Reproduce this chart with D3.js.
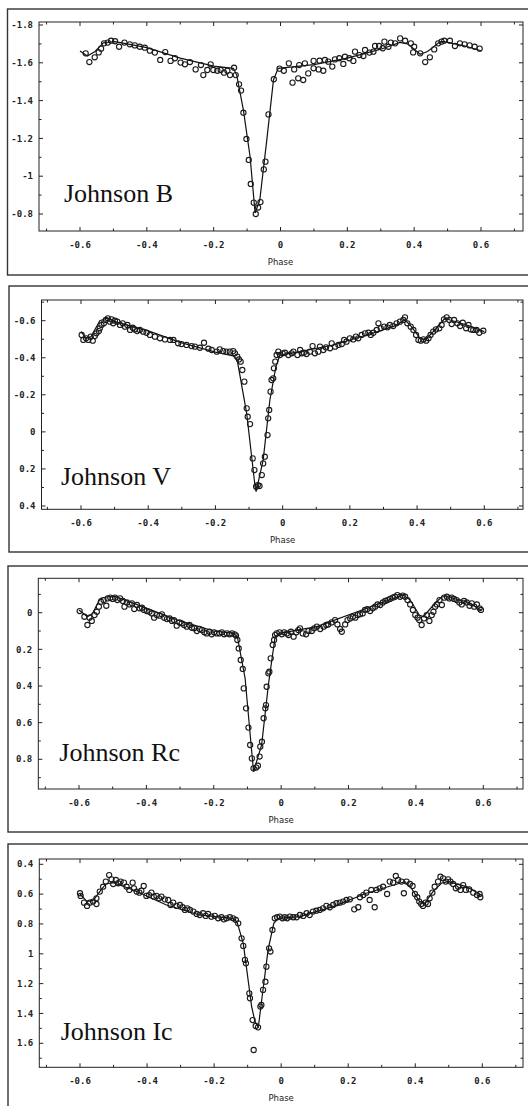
<!DOCTYPE html>
<html>
<head>
<meta charset="utf-8">
<script src="https://cdn.jsdelivr.net/npm/d3@7"></script>
<style>
  body { margin: 0; background: #fff; }
</style>
</head>
<body>
<div id="zone"></div>
<script>
// courbes de lumière dans 4 filtres (B, V, Rc, Ic)
(function() {

  "use strict";

  /////////// Données ////////////

  var filtres = ["Johnson B", "Johnson V", "Johnson Rc", "Johnson Ic"];

  // graduations de l'axe des phases
  var phaseTicks = [-0.6, -0.4, -0.2, 0, 0.2, 0.4, 0.6];

  // graduations de l'axe des magnitudes, une liste par filtre
  var magTicksB = [-1.8, -1.6, -1.4, -1.2, -1, -0.8];
  var magTicksV = [-0.6, -0.4, -0.2, 0, 0.2, 0.4];
  var magTicksR = [0, 0.2, 0.4, 0.6, 0.8];
  var magTicksI = [0.4, 0.6, 0.8, 1, 1.2, 1.4, 1.6];

  // observations [phase, magnitude]
  var obsB = [
    [-0.583,-1.650],[-0.572,-1.604],[-0.556,-1.629],[-0.544,-1.655],[-0.537,-1.675],[-0.528,-1.703],[-0.517,-1.707],[-0.507,-1.717],
    [-0.495,-1.714],[-0.483,-1.685],[-0.467,-1.707],[-0.451,-1.698],[-0.436,-1.692],[-0.421,-1.685],[-0.406,-1.680],[-0.391,-1.664],
    [-0.376,-1.654],[-0.360,-1.615],[-0.345,-1.657],[-0.329,-1.610],[-0.316,-1.624],[-0.299,-1.601],[-0.286,-1.592],[-0.271,-1.604],
    [-0.254,-1.565],[-0.238,-1.588],[-0.231,-1.535],[-0.219,-1.562],[-0.209,-1.592],[-0.201,-1.562],[-0.189,-1.558],[-0.179,-1.562],
    [-0.169,-1.548],[-0.159,-1.558],[-0.151,-1.535],[-0.139,-1.574],[-0.134,-1.535],[-0.124,-1.486],[-0.118,-1.453],[-0.111,-1.336],
    [-0.102,-1.197],[-0.095,-1.086],[-0.089,-0.959],[-0.080,-0.860],[-0.074,-0.800],[-0.067,-0.834],[-0.060,-0.863],[-0.050,-1.036],
    [-0.045,-1.077],[-0.036,-1.327],[-0.020,-1.513],[-0.003,-1.569],[0.010,-1.558],[0.025,-1.597],[0.036,-1.495],[0.041,-1.565],
    [0.053,-1.518],[0.056,-1.588],[0.068,-1.509],[0.073,-1.597],[0.083,-1.544],[0.099,-1.610],[0.099,-1.571],[0.114,-1.565],
    [0.117,-1.611],[0.128,-1.558],[0.133,-1.615],[0.143,-1.606],[0.155,-1.580],[0.163,-1.618],[0.176,-1.624],[0.188,-1.594],
    [0.193,-1.632],[0.206,-1.624],[0.218,-1.610],[0.223,-1.659],[0.236,-1.641],[0.248,-1.636],[0.253,-1.668],[0.266,-1.654],
    [0.278,-1.659],[0.283,-1.689],[0.295,-1.689],[0.306,-1.677],[0.311,-1.712],[0.323,-1.685],[0.330,-1.707],[0.343,-1.703],
    [0.358,-1.729],[0.373,-1.717],[0.390,-1.703],[0.400,-1.685],[0.397,-1.655],[0.418,-1.650],[0.433,-1.604],[0.447,-1.629],
    [0.460,-1.671],[0.472,-1.703],[0.482,-1.712],[0.490,-1.717],[0.507,-1.717],[0.522,-1.689],[0.537,-1.703],[0.551,-1.698],
    [0.566,-1.692],[0.581,-1.685],[0.596,-1.675]
  ];

  var obsV = [
    [-0.598,-0.523],[-0.593,-0.496],[-0.585,-0.505],[-0.578,-0.496],[-0.571,-0.514],[-0.565,-0.492],[-0.559,-0.517],[-0.554,-0.532],
    [-0.547,-0.544],[-0.544,-0.559],[-0.539,-0.577],[-0.532,-0.586],[-0.526,-0.604],[-0.520,-0.613],[-0.514,-0.595],[-0.509,-0.607],
    [-0.504,-0.586],[-0.499,-0.600],[-0.492,-0.595],[-0.484,-0.577],[-0.476,-0.586],[-0.469,-0.568],[-0.462,-0.577],[-0.454,-0.550],
    [-0.446,-0.562],[-0.440,-0.553],[-0.433,-0.544],[-0.425,-0.550],[-0.415,-0.541],[-0.405,-0.535],[-0.395,-0.523],[-0.380,-0.514],
    [-0.365,-0.505],[-0.350,-0.499],[-0.335,-0.496],[-0.325,-0.496],[-0.311,-0.478],[-0.301,-0.474],[-0.286,-0.469],[-0.271,-0.463],
    [-0.261,-0.460],[-0.246,-0.454],[-0.234,-0.481],[-0.221,-0.449],[-0.211,-0.442],[-0.196,-0.433],[-0.187,-0.445],[-0.177,-0.436],
    [-0.167,-0.433],[-0.157,-0.433],[-0.147,-0.436],[-0.142,-0.424],[-0.135,-0.406],[-0.130,-0.391],[-0.125,-0.379],[-0.120,-0.334],
    [-0.114,-0.271],[-0.107,-0.127],[-0.104,-0.082],[-0.097,-0.042],[-0.089,0.143],[-0.084,0.206],[-0.079,0.296],[-0.074,0.287],
    [-0.069,0.292],[-0.062,0.233],[-0.058,0.170],[-0.053,0.134],[-0.045,0.017],[-0.043,-0.073],[-0.040,-0.118],[-0.036,-0.217],
    [-0.033,-0.280],[-0.028,-0.289],[-0.026,-0.343],[-0.022,-0.379],[-0.018,-0.415],[-0.013,-0.433],[-0.008,-0.415],[0.000,-0.424],
    [0.007,-0.427],[0.017,-0.415],[0.027,-0.424],[0.032,-0.433],[0.044,-0.415],[0.052,-0.442],[0.057,-0.424],[0.063,-0.427],
    [0.071,-0.420],[0.081,-0.433],[0.089,-0.463],[0.096,-0.424],[0.106,-0.433],[0.111,-0.460],[0.121,-0.442],[0.129,-0.456],
    [0.141,-0.451],[0.146,-0.478],[0.156,-0.460],[0.166,-0.469],[0.176,-0.474],[0.183,-0.496],[0.190,-0.487],[0.200,-0.505],
    [0.210,-0.499],[0.218,-0.514],[0.225,-0.505],[0.235,-0.523],[0.245,-0.532],[0.255,-0.535],[0.262,-0.523],[0.270,-0.535],
    [0.280,-0.550],[0.285,-0.586],[0.292,-0.559],[0.302,-0.568],[0.312,-0.564],[0.319,-0.577],[0.329,-0.571],[0.339,-0.586],
    [0.349,-0.595],[0.359,-0.604],[0.364,-0.618],[0.371,-0.586],[0.381,-0.568],[0.389,-0.550],[0.397,-0.523],[0.404,-0.496],
    [0.411,-0.492],[0.419,-0.499],[0.427,-0.492],[0.434,-0.505],[0.440,-0.523],[0.448,-0.541],[0.456,-0.553],[0.466,-0.559],
    [0.473,-0.577],[0.480,-0.607],[0.488,-0.618],[0.496,-0.604],[0.503,-0.582],[0.510,-0.604],[0.520,-0.586],[0.528,-0.571],
    [0.536,-0.589],[0.546,-0.559],[0.553,-0.577],[0.560,-0.553],[0.567,-0.550],[0.577,-0.550],[0.585,-0.535],[0.597,-0.546]
  ];

  var obsR = [
    [-0.598,-0.009],[-0.584,0.022],[-0.575,0.067],[-0.569,0.027],[-0.562,0.045],[-0.554,0.013],[-0.547,-0.005],[-0.541,-0.033],
    [-0.535,-0.060],[-0.527,-0.069],[-0.519,-0.038],[-0.515,-0.078],[-0.507,-0.082],[-0.500,-0.075],[-0.493,-0.082],[-0.486,-0.069],
    [-0.478,-0.078],[-0.470,-0.064],[-0.465,-0.033],[-0.458,-0.056],[-0.450,-0.045],[-0.443,-0.051],[-0.436,-0.020],[-0.428,-0.042],
    [-0.420,-0.024],[-0.413,-0.027],[-0.407,-0.015],[-0.399,-0.009],[-0.391,-0.005],[-0.384,0.004],[-0.377,0.027],[-0.369,0.013],
    [-0.361,0.016],[-0.354,0.009],[-0.347,0.027],[-0.339,0.035],[-0.331,0.031],[-0.324,0.045],[-0.318,0.040],[-0.310,0.071],
    [-0.302,0.053],[-0.295,0.058],[-0.288,0.067],[-0.280,0.076],[-0.272,0.067],[-0.265,0.082],[-0.258,0.085],[-0.250,0.100],
    [-0.242,0.089],[-0.235,0.095],[-0.228,0.107],[-0.221,0.113],[-0.213,0.104],[-0.206,0.118],[-0.199,0.107],[-0.191,0.113],
    [-0.183,0.113],[-0.176,0.107],[-0.169,0.118],[-0.161,0.113],[-0.153,0.118],[-0.146,0.113],[-0.138,0.118],[-0.134,0.125],
    [-0.130,0.149],[-0.126,0.195],[-0.120,0.258],[-0.114,0.307],[-0.111,0.413],[-0.104,0.522],[-0.097,0.627],[-0.092,0.722],
    [-0.087,0.795],[-0.082,0.849],[-0.074,0.845],[-0.069,0.835],[-0.064,0.785],[-0.062,0.731],[-0.057,0.704],[-0.052,0.576],
    [-0.047,0.522],[-0.045,0.504],[-0.043,0.404],[-0.038,0.331],[-0.035,0.322],[-0.031,0.249],[-0.025,0.176],[-0.021,0.149],
    [-0.018,0.122],[-0.013,0.113],[-0.005,0.107],[0.002,0.118],[0.009,0.107],[0.017,0.113],[0.022,0.122],[0.029,0.104],
    [0.037,0.131],[0.045,0.107],[0.051,0.095],[0.056,0.085],[0.064,0.113],[0.074,0.118],[0.081,0.100],[0.091,0.100],
    [0.098,0.085],[0.106,0.076],[0.116,0.089],[0.126,0.076],[0.134,0.067],[0.140,0.064],[0.150,0.053],[0.160,0.040],
    [0.167,0.064],[0.175,0.089],[0.180,0.104],[0.190,0.064],[0.197,0.040],[0.205,0.031],[0.213,0.022],[0.220,0.027],
    [0.227,0.013],[0.234,0.009],[0.242,0.004],[0.249,-0.015],[0.256,-0.020],[0.264,-0.009],[0.272,-0.024],[0.279,-0.033],
    [0.286,-0.045],[0.294,-0.042],[0.302,-0.056],[0.309,-0.064],[0.316,-0.069],[0.323,-0.075],[0.331,-0.082],[0.338,-0.087],
    [0.345,-0.096],[0.353,-0.087],[0.361,-0.093],[0.368,-0.087],[0.375,-0.069],[0.383,-0.045],[0.391,-0.015],[0.398,0.013],
    [0.405,0.027],[0.410,0.040],[0.417,0.067],[0.424,0.031],[0.432,0.013],[0.440,0.045],[0.447,0.013],[0.452,-0.005],
    [0.457,-0.033],[0.462,-0.045],[0.470,-0.069],[0.477,-0.042],[0.484,-0.082],[0.492,-0.087],[0.499,-0.078],[0.506,-0.082],
    [0.513,-0.075],[0.521,-0.069],[0.529,-0.056],[0.536,-0.045],[0.543,-0.064],[0.551,-0.056],[0.559,-0.038],[0.566,-0.051],
    [0.573,-0.033],[0.581,-0.045],[0.589,-0.024],[0.593,-0.015]
  ];

  var obsI = [
    [-0.600,0.594],[-0.598,0.612],[-0.588,0.657],[-0.579,0.679],[-0.571,0.657],[-0.561,0.650],[-0.551,0.628],[-0.551,0.666],
    [-0.541,0.583],[-0.531,0.550],[-0.523,0.516],[-0.513,0.472],[-0.506,0.501],[-0.501,0.532],[-0.493,0.505],[-0.486,0.527],
    [-0.479,0.516],[-0.469,0.523],[-0.461,0.550],[-0.453,0.572],[-0.443,0.523],[-0.439,0.561],[-0.431,0.583],[-0.423,0.590],
    [-0.417,0.577],[-0.410,0.545],[-0.402,0.612],[-0.394,0.606],[-0.387,0.590],[-0.380,0.617],[-0.372,0.612],[-0.364,0.628],
    [-0.357,0.617],[-0.347,0.635],[-0.337,0.639],[-0.330,0.673],[-0.322,0.657],[-0.312,0.679],[-0.302,0.673],[-0.294,0.688],
    [-0.287,0.706],[-0.280,0.695],[-0.272,0.706],[-0.262,0.717],[-0.252,0.733],[-0.243,0.740],[-0.233,0.728],[-0.225,0.746],
    [-0.218,0.733],[-0.208,0.751],[-0.198,0.746],[-0.188,0.762],[-0.178,0.755],[-0.171,0.769],[-0.163,0.762],[-0.153,0.755],
    [-0.143,0.762],[-0.135,0.773],[-0.128,0.796],[-0.118,0.896],[-0.113,0.947],[-0.108,1.041],[-0.105,1.064],[-0.095,1.265],
    [-0.093,1.298],[-0.085,1.444],[-0.082,1.645],[-0.076,1.484],[-0.069,1.493],[-0.062,1.354],[-0.059,1.343],[-0.054,1.242],
    [-0.047,1.187],[-0.044,1.086],[-0.036,0.963],[-0.032,0.985],[-0.026,0.840],[-0.019,0.762],[-0.012,0.755],[-0.004,0.751],
    [0.004,0.762],[0.011,0.755],[0.018,0.762],[0.026,0.751],[0.036,0.755],[0.046,0.755],[0.056,0.740],[0.066,0.746],
    [0.076,0.728],[0.085,0.740],[0.095,0.717],[0.105,0.711],[0.115,0.706],[0.125,0.695],[0.135,0.679],[0.145,0.688],
    [0.155,0.673],[0.165,0.661],[0.175,0.657],[0.185,0.650],[0.195,0.639],[0.205,0.635],[0.218,0.702],[0.230,0.688],
    [0.235,0.621],[0.245,0.606],[0.254,0.590],[0.264,0.639],[0.269,0.572],[0.279,0.688],[0.284,0.572],[0.294,0.561],
    [0.304,0.550],[0.316,0.599],[0.324,0.516],[0.334,0.523],[0.342,0.478],[0.349,0.505],[0.359,0.516],[0.366,0.594],
    [0.374,0.516],[0.384,0.532],[0.392,0.545],[0.399,0.599],[0.406,0.621],[0.412,0.650],[0.418,0.666],[0.423,0.679],
    [0.431,0.657],[0.438,0.666],[0.443,0.628],[0.451,0.590],[0.458,0.550],[0.468,0.516],[0.475,0.483],[0.483,0.494],
    [0.491,0.516],[0.498,0.501],[0.505,0.516],[0.513,0.532],[0.521,0.561],[0.528,0.550],[0.535,0.572],[0.543,0.539],
    [0.551,0.572],[0.561,0.568],[0.573,0.590],[0.584,0.606],[0.592,0.599],[0.594,0.621]
  ];

  // courbes modèles [phase, magnitude]
  var modelB = [
    [-0.600,-1.662],[-0.578,-1.636],[-0.555,-1.660],[-0.530,-1.706],[-0.495,-1.712],[-0.400,-1.680],[-0.300,-1.625],
    [-0.200,-1.582],[-0.141,-1.571],[-0.131,-1.535],[-0.111,-1.350],[-0.091,-1.103],[-0.076,-0.805],[-0.062,-0.874],
    [-0.041,-1.192],[-0.021,-1.509],[-0.007,-1.571],[0.100,-1.590],[0.200,-1.625],[0.300,-1.672],[0.358,-1.708],
    [0.380,-1.700],[0.400,-1.672],[0.418,-1.645],[0.440,-1.660],[0.478,-1.712],[0.490,-1.712],[0.550,-1.690],[0.600,-1.664]
  ];

  var modelV = [
    [-0.600,-0.541],[-0.585,-0.505],[-0.570,-0.515],[-0.544,-0.600],[-0.524,-0.613],[-0.494,-0.592],[-0.400,-0.545],
    [-0.300,-0.480],[-0.200,-0.430],[-0.147,-0.410],[-0.135,-0.385],[-0.107,-0.100],[-0.082,0.296],[-0.079,0.323],
    [-0.058,0.152],[-0.038,-0.172],[-0.020,-0.352],[-0.008,-0.415],[0.052,-0.433],[0.151,-0.469],[0.250,-0.523],
    [0.329,-0.568],[0.364,-0.604],[0.379,-0.577],[0.409,-0.505],[0.424,-0.496],[0.448,-0.541],[0.483,-0.613],
    [0.498,-0.604],[0.548,-0.577],[0.600,-0.541]
  ];

  var modelR = [
    [-0.600,-0.015],[-0.575,0.022],[-0.560,0.005],[-0.537,-0.078],[-0.513,-0.087],[-0.495,-0.090],[-0.400,-0.025],
    [-0.300,0.045],[-0.200,0.100],[-0.141,0.113],[-0.130,0.131],[-0.107,0.358],[-0.082,0.867],[-0.058,0.722],
    [-0.038,0.395],[-0.018,0.131],[-0.005,0.113],[0.106,0.076],[0.254,-0.024],[0.333,-0.078],[0.363,-0.096],
    [0.383,-0.069],[0.410,0.013],[0.422,0.022],[0.452,-0.042],[0.477,-0.087],[0.492,-0.087],[0.551,-0.060],[0.593,-0.015]
  ];

  var modelI = [
    [-0.600,0.599],[-0.579,0.650],[-0.560,0.640],[-0.541,0.583],[-0.523,0.532],[-0.501,0.523],[-0.441,0.572],
    [-0.342,0.673],[-0.243,0.740],[-0.143,0.762],[-0.131,0.791],[-0.113,0.930],[-0.088,1.354],[-0.078,1.455],
    [-0.068,1.490],[-0.058,1.310],[-0.039,0.974],[-0.022,0.796],[-0.009,0.762],[0.056,0.751],[0.155,0.684],
    [0.254,0.594],[0.354,0.527],[0.369,0.516],[0.389,0.561],[0.413,0.650],[0.428,0.661],[0.453,0.583],
    [0.478,0.527],[0.498,0.516],[0.553,0.550],[0.597,0.606]
  ];

  /////////// Mise en page ////////////

  var largeur = 528;
  var hauteur = 1106;

  // cadre = boîte extérieure, plot = zone du graphique, x06 = pixels de -0.6 et 0.6,
  // yv / yp = deux valeurs de magnitude et leurs pixels, lab = position du nom du filtre
  var panneaux = [
    { nom: filtres[0], obs: obsB, model: modelB, ticks: magTicksB,
      cadre: [7.5, 9, 266], plot: [39, 22, 231], x06: [80, 481], yv: [-1.8, -0.8], yp: [25, 214], lab: [64, 201.7] },
    { nom: filtres[1], obs: obsV, model: modelV, ticks: magTicksV,
      cadre: [9, 286, 266], plot: [41.5, 300, 509.3], x06: [81, 484.3], yv: [-0.6, 0.4], yp: [320.7, 506], lab: [61, 485] },
    { nom: filtres[2], obs: obsR, model: modelR, ticks: magTicksR,
      cadre: [8, 566, 266], plot: [38.3, 578.3, 789], x06: [79, 483.3], yv: [0, 0.8], yp: [612.7, 759.3], lab: [59.3, 761] },
    { nom: filtres[3], obs: obsI, model: modelI, ticks: magTicksI,
      cadre: [8, 844, 300], plot: [39.3, 859, 1067.3], x06: [80, 482.3], yv: [0.4, 1.6], yp: [864.3, 1043.3], lab: [60.7, 1040] }
  ];
  var plotDroite = 523;

  var svg = d3.select("#zone")
    .append("svg")
    .attr("width", largeur)
    .attr("height", hauteur)
    .style("display", "block");

  svg.append("rect")
    .attr("width", largeur)
    .attr("height", hauteur)
    .attr("fill", "#fff");

  panneaux.forEach(dessinePanneau);

  /**
  * Dessine un panneau complet : cadre, axes, modèle, points, nom du filtre.
  */
  function dessinePanneau(p) {

    var g = svg.append("g");
    var gauche = p.plot[0], haut = p.plot[1], bas = p.plot[2];

    var x = d3.scaleLinear().domain([-0.6, 0.6]).range(p.x06);
    var y = d3.scaleLinear().domain(p.yv).range(p.yp);

    // cadre extérieur (coupé à droite comme sur l'image)
    g.append("rect")
      .attr("x", p.cadre[0])
      .attr("y", p.cadre[1])
      .attr("width", largeur + 20 - p.cadre[0])
      .attr("height", p.cadre[2])
      .attr("fill", "none")
      .attr("stroke", "#333")
      .attr("stroke-width", 1.4);

    // zone du graphique
    g.append("rect")
      .attr("x", gauche)
      .attr("y", haut)
      .attr("width", plotDroite - gauche)
      .attr("height", bas - haut)
      .attr("fill", "none")
      .attr("stroke", "#222")
      .attr("stroke-width", 1);

    // graduations de phase : majeures et mineures, vers l'intérieur, en haut et en bas
    var phaseMin = x.invert(gauche), phaseMax = x.invert(plotDroite);
    var tousX = d3.range(Math.ceil(phaseMin * 10 - 1e-6), Math.floor(phaseMax * 10 + 1e-6) + 1).map(function(k) { return k / 10; });
    tousX.forEach(function(v) {
      var majeur = phaseTicks.some(function(t) { return Math.abs(t - v) < 1e-6; });
      var l = majeur ? 4 : 2.5;
      g.append("line").attr("x1", x(v)).attr("x2", x(v)).attr("y1", bas).attr("y2", bas - l)
        .attr("stroke", "#222");
      g.append("line").attr("x1", x(v)).attr("x2", x(v)).attr("y1", haut).attr("y2", haut + l)
        .attr("stroke", "#222");
    });

    // graduations de magnitude, à gauche et à droite
    var m0 = Math.min(y.invert(haut), y.invert(bas)), m1 = Math.max(y.invert(haut), y.invert(bas));
    var tousY = d3.range(Math.ceil(m0 * 10 - 1e-6), Math.floor(m1 * 10 + 1e-6) + 1).map(function(k) { return k / 10; });
    tousY.forEach(function(v) {
      var majeur = p.ticks.some(function(t) { return Math.abs(t - v) < 1e-6; });
      var l = majeur ? 4 : 2.5;
      g.append("line").attr("x1", gauche).attr("x2", gauche + l).attr("y1", y(v)).attr("y2", y(v))
        .attr("stroke", "#222");
      g.append("line").attr("x1", plotDroite).attr("x2", plotDroite - l).attr("y1", y(v)).attr("y2", y(v))
        .attr("stroke", "#222");
    });

    // étiquettes des axes
    g.selectAll(".xlab")
      .data(phaseTicks)
      .enter().append("text")
      .attr("x", function(d) { return x(d); })
      .attr("y", bas + 16.5)
      .attr("text-anchor", "middle")
      .attr("font-family", "'DejaVu Sans Mono', monospace")
      .attr("font-size", 9)
      .attr("font-weight", "bold")
      .attr("fill", "#222")
      .text(function(d) { return String(+d.toFixed(1)); });

    g.selectAll(".ylab")
      .data(p.ticks)
      .enter().append("text")
      .attr("x", gauche - 6)
      .attr("y", function(d) { return y(d); })
      .attr("dy", "0.35em")
      .attr("text-anchor", "end")
      .attr("font-family", "'DejaVu Sans Mono', monospace")
      .attr("font-size", 9)
      .attr("font-weight", "bold")
      .attr("fill", "#222")
      .text(function(d) { return String(+d.toFixed(1)); });

    g.append("text")
      .attr("x", x(0))
      .attr("y", bas + 33.5)
      .attr("text-anchor", "middle")
      .attr("font-family", "'DejaVu Sans', sans-serif")
      .attr("font-size", 8.5)
      .attr("fill", "#222")
      .text("Phase");

    // courbe modèle
    var ligne = d3.line()
      .x(function(d) { return x(d[0]); })
      .y(function(d) { return y(d[1]); });

    g.append("path")
      .datum(p.model)
      .attr("d", ligne)
      .attr("fill", "none")
      .attr("stroke", "#111")
      .attr("stroke-width", 1.2);

    // observations (cercles ouverts)
    g.selectAll(".obs")
      .data(p.obs)
      .enter().append("circle")
      .attr("cx", function(d) { return x(d[0]); })
      .attr("cy", function(d) { return y(d[1]); })
      .attr("r", 2.6)
      .attr("fill", "none")
      .attr("stroke", "#1a1a1a")
      .attr("stroke-width", 1.1);

    // nom du filtre
    g.append("text")
      .attr("x", p.lab[0])
      .attr("y", p.lab[1])
      .attr("font-family", "'Liberation Serif', 'Times New Roman', serif")
      .attr("font-size", 26)
      .attr("fill", "#111")
      .text(p.nom);
  }

})();
</script>
</body>
</html>
